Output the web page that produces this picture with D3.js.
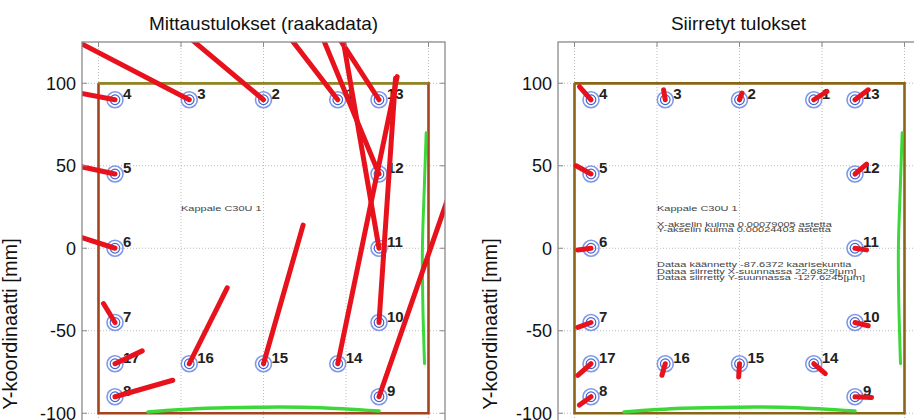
<!DOCTYPE html>
<html><head><meta charset="utf-8">
<script src="https://cdn.jsdelivr.net/npm/d3@7"></script>
<style>body{margin:0;background:#fff}svg{display:block}text{font-family:"Liberation Sans",Arial,sans-serif}</style>
</head><body>
<svg id="chart" width="914" height="420"></svg>
<script>
// ---- data ----
const panelTitles = ["Mittaustulokset (raakadata)", "Siirretyt tulokset"];
const yAxisLabel = "Y-koordinaatti [mm]";
const yTicks = [100, 50, 0, -50, -100];
const xTicks = [-100, -50, 0, 50, 100];
const pointIds = [4, 3, 2, 1, 13, 5, 12, 6, 11, 7, 10, 17, 16, 15, 14, 8, 9];
const pointX = [-90, -45, 0, 45, 70, -90, 70, -90, 70, -90, 70, -90, -45, 0, 45, -90, 70];
const pointY = [90, 90, 90, 90, 90, 45, 45, 0, 0, -45, -45, -70, -70, -70, -70, -90, -90];
// raw measurement deviation vectors (end points), left panel
const rawEndX = [-125, -122, -53.6, 10, 41, -125, 27, -125, 45, -97, 80, -73.5, -22, 24, 81, -55, 120];
const rawEndY = [96.6, 130, 134.9, 135.4, 134.7, 52.6, 149, 11.3, 145, -33.5, 103, -62.2, -24, 14, 104, -80, 54];
// shifted result vectors (end points), right panel
const shiftEndX = [-97, -46, 1.5, 53, 78, -99, 77, -98, 77, -98, 78, -98, -47, -0.5, 52, -97, 80];
const shiftEndY = [98, 96, 94, 95, 96, 50, 51, -1, -1, -48, -47, -77, -77, -78, -76, -95, -90.5];
// reference frame and edge profiles
const frameX = [-100, 100, 100, -100, -100];
const frameY = [100, 100, -100, -100, 100];
const greenBottomX = [-70, -35, 0, 35, 70];
const greenBottomY = [-99.2, -97, -96.3, -96.6, -98.6];
const greenRightX = [98.6, 97.4, 96.3, 96.6, 97.6];
const greenRightY = [70, 35, 0, -35, -70];
// annotations
const leftNotes = ["Kappale C30U 1"];
const rightNotes = ["Kappale C30U 1", "X-akselin kulma 0.00079005 astetta", "Y-akselin kulma 0.00024403 astetta",
  "Dataa käännetty -87.6372 kaarisekuntia", "Dataa siirretty X-suunnassa 22.6829[μm]", "Dataa siirretty Y-suunnassa -127.6245[μm]"];
const rightNoteY = [22.5, 13, 10, -11.5, -15.5, -19.2];

// ---- drawing ----
const svg = d3.select("#chart");
const panels = [
  {left: 82, right: 445, endX: rawEndX, endY: rawEndY, frame: "#a4441f", top: "#8a8a22", notes: leftNotes, noteY: [22.5], labelX: 17},
  {left: 558, right: 921, endX: shiftEndX, endY: shiftEndY, frame: "#8a6516", top: "#8a6516", notes: rightNotes, noteY: rightNoteY, labelX: 497}
];
const yScale = d3.scaleLinear().domain([125, -125]).range([42, 454.5]);

panels.forEach((p, pi) => {
  const x = d3.scaleLinear().domain([-110, 110]).range([p.left, p.right]);
  const y = yScale;
  const g = svg.append("g");
  const clipId = "clip" + pi;
  svg.append("clipPath").attr("id", clipId).append("rect")
    .attr("x", p.left).attr("y", 42).attr("width", p.right - p.left).attr("height", 412.5);
  g.append("rect").attr("x", p.left).attr("y", 42).attr("width", p.right - p.left).attr("height", 412.5).attr("fill", "#fff");

  const plot = g.append("g").attr("clip-path", `url(#${clipId})`);
  // grid
  plot.selectAll(".gx").data(xTicks).join("line")
    .attr("x1", d => x(d)).attr("x2", d => x(d)).attr("y1", 42).attr("y2", 455)
    .attr("stroke", "#bdbdbd").attr("stroke-width", 1).attr("stroke-dasharray", "1,2");
  plot.selectAll(".gy").data(yTicks).join("line")
    .attr("y1", d => y(d)).attr("y2", d => y(d)).attr("x1", p.left).attr("x2", p.right)
    .attr("stroke", "#bdbdbd").attr("stroke-width", 1).attr("stroke-dasharray", "1,2");

  // frame
  const line = d3.line().x(d => x(d[0])).y(d => y(d[1]));
  plot.append("path").attr("d", line(frameX.map((v, i) => [v, frameY[i]])))
    .attr("fill", "none").attr("stroke", p.frame).attr("stroke-width", 2.6);
  plot.append("path").attr("d", line([[frameX[0], frameY[0]], [frameX[1], frameY[1]]]))
    .attr("fill", "none").attr("stroke", p.top).attr("stroke-width", 2.6);

  // green edge profiles
  const curve = d3.line().x(d => x(d[0])).y(d => y(d[1])).curve(d3.curveCatmullRom);
  plot.append("path").attr("d", curve(greenBottomX.map((v, i) => [v, greenBottomY[i]])))
    .attr("fill", "none").attr("stroke", "#3cd83a").attr("stroke-width", 3.5).attr("stroke-linecap", "round");
  plot.append("path").attr("d", curve(greenRightX.map((v, i) => [v, greenRightY[i]])))
    .attr("fill", "none").attr("stroke", "#3cd83a").attr("stroke-width", 3).attr("stroke-linecap", "round");

  // markers
  const idx = d3.range(pointIds.length);
  const mk = plot.selectAll(".mk").data(idx).join("g")
    .attr("transform", i => `translate(${x(pointX[i])},${y(pointY[i])})`);
  mk.append("circle").attr("r", 8).attr("fill", "none").attr("stroke", "#7f98e8").attr("stroke-width", 1.6);
  mk.append("circle").attr("r", 4.8).attr("fill", "none").attr("stroke", "#4062d4").attr("stroke-width", 1.2);
  mk.append("circle").attr("r", 1.8).attr("fill", "#e89a3a");

  // point labels
  plot.selectAll(".lb").data(idx).join("text")
    .attr("x", i => x(pointX[i]) + 8).attr("y", i => y(pointY[i]) - 1)
    .attr("font-size", 15).attr("font-weight", "bold").attr("fill", "#222")
    .text(i => pointIds[i]);

  // red vectors
  plot.selectAll(".vec").data(idx).join("line")
    .attr("x1", i => x(pointX[i])).attr("y1", i => y(pointY[i]))
    .attr("x2", i => x(p.endX[i])).attr("y2", i => y(p.endY[i]))
    .attr("stroke", "#e8121c").attr("stroke-width", 5).attr("stroke-linecap", "round");

  // annotations
  p.notes.forEach((t, k) => {
    plot.append("text")
      .attr("transform", `translate(${x(-50)},${y(p.noteY[k])}) scale(1,0.72)`)
      .attr("font-size", 11).attr("fill", "#444").text(t);
  });

  // axes box + ticks
  g.append("rect").attr("x", p.left).attr("y", 42).attr("width", p.right - p.left).attr("height", 412.5)
    .attr("fill", "none").attr("stroke", "#8a8a8a").attr("stroke-width", 1.3);
  yTicks.forEach(t => {
    g.append("line").attr("x1", p.left).attr("x2", p.left + 5).attr("y1", y(t)).attr("y2", y(t)).attr("stroke", "#8a8a8a");
    g.append("line").attr("x1", p.right).attr("x2", p.right - 5).attr("y1", y(t)).attr("y2", y(t)).attr("stroke", "#8a8a8a");
  });
  xTicks.forEach(t => {
    g.append("line").attr("y1", 42).attr("y2", 47).attr("x1", x(t)).attr("x2", x(t)).attr("stroke", "#8a8a8a");
  });
  g.selectAll(".tl").data(yTicks).join("text")
    .attr("x", p.left - 6).attr("y", d => y(d) + 6.5).attr("text-anchor", "end")
    .attr("font-size", 18).attr("fill", "#111").text(d => d);

  // title
  g.append("text").attr("x", (p.left + p.right) / 2 - (pi ? 1 : 0)).attr("y", 29.5).attr("text-anchor", "middle")
    .attr("font-size", 19).attr("fill", "#111").text(panelTitles[pi]);
  // y label
  g.append("text").attr("transform", `translate(${p.labelX},324) rotate(-90)`).attr("text-anchor", "middle")
    .attr("font-size", 20).attr("fill", "#111").text(yAxisLabel);
});
</script>
</body></html>
